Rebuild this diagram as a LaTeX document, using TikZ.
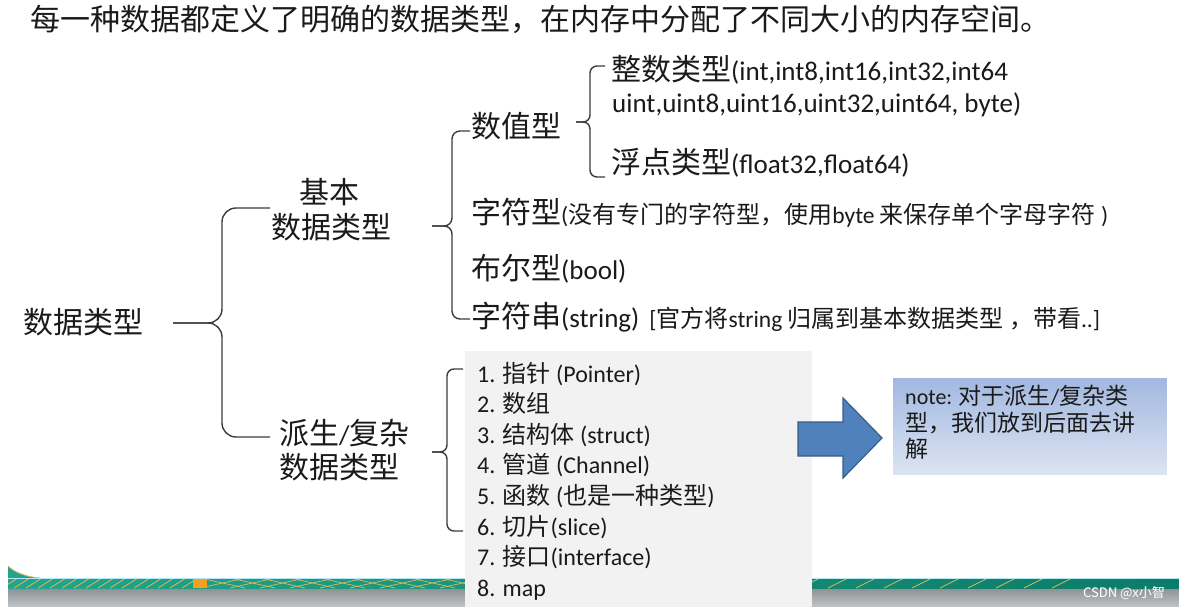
\documentclass[tikz,border=0pt]{standalone}
\usepackage{fontspec}
\setmainfont{Carlito}
\newfontfamily\cjk{Noto Sans CJK SC}
\newcommand\ZA[1]{{\cjk\fontsize{30}{36}\selectfont #1}}
\newcommand\LA[1]{{\fontsize{27}{32}\selectfont #1}}
\newcommand\ZB[1]{{\cjk\fontsize{24}{29}\selectfont #1}}
\newcommand\LD[1]{{\fontsize{24}{29}\selectfont #1}}
\newcommand\ZC[1]{{\cjk\fontsize{23}{28}\selectfont #1}}
\newcommand\LC[1]{{\fontsize{22}{27}\selectfont #1}}
\newcommand\LE[1]{{\fontsize{23.5}{28}\selectfont #1}}
\definecolor{txt}{HTML}{1A1A1A}
\definecolor{brc}{HTML}{3C3C3C}
\definecolor{boxgray}{HTML}{F2F2F2}
\definecolor{arrfill}{HTML}{4F81BD}
\definecolor{arrline}{HTML}{385D8A}
\definecolor{notetop}{HTML}{A3B9E0}
\definecolor{notebot}{HTML}{DDE5F3}
\definecolor{tealA}{HTML}{23A48C}
\definecolor{tealB}{HTML}{0B7C68}
\definecolor{stripe}{HTML}{D9B95C}
\definecolor{orng}{HTML}{F4A020}
\definecolor{gtop}{HTML}{8C9094}
\definecolor{gbot}{HTML}{C2C5C8}
\tikzset{
  lbl/.style={inner sep=0pt, anchor=base west, text=txt},
  brace/.style={draw=brc, line width=1.4pt, rounded corners=#1},
  brace/.default=10pt,
}
\begin{document}
\begin{tikzpicture}[x=1pt,y=1pt]
\useasboundingbox (0,0) rectangle (1179,-607);
\fill[white] (0,0) rectangle (1179,-607);

% bottom decorative band
\shade[top color=gtop, bottom color=gbot] (8,-588) rectangle (1179,-607);
\shade[left color=tealA, right color=tealB] (8,-578) rectangle (1179,-588);
\begin{scope}
  \clip (8,-578) rectangle (1179,-588);
  \foreach \x in {2,14,...,190} \draw[stripe, line width=0.8pt] (\x,-588) -- (\x+16,-578);
  \foreach \x in {200,230,...,470} {
    \draw[stripe, line width=0.7pt] (\x,-588) -- (\x+45,-578);
    \draw[stripe, line width=0.7pt] (\x,-578) -- (\x+45,-588);
  }
  \foreach \x in {800,828,...,1070} \draw[stripe, line width=0.8pt] (\x,-588) -- (\x+20,-578);
\end{scope}
\fill[orng] (193,-578) rectangle (207,-588);
\fill[tealA] (8,-566) .. controls (14,-572) and (26,-577) .. (40,-578) -- (8,-578) -- cycle;
\draw[stripe, line width=0.8pt] (8,-566) .. controls (14,-572) and (26,-577) .. (40,-578);
\draw[white!70!cyan, line width=0.6pt] (8,-578) -- (1179,-578);

% gray list box
\fill[boxgray] (465,-351) rectangle (812,-607);

% arrow
\fill[arrfill, draw=arrline, line width=1.2pt]
  (798,-422) -- (843,-422) -- (843,-398) -- (882,-438) -- (843,-478) -- (843,-456) -- (798,-456) -- cycle;

% note box (vertical gradient, darker at top)
\foreach \i in {0,...,19} {
  \pgfmathsetmacro\pc{100-5*\i}
  \fill[notetop!\pc!notebot] (893,-378-\i*4.85) rectangle (1167,-378-\i*4.85-5.1);
}
\node[lbl] (note1) at (905,-404) {\LC{note: }\ZC{对于派生}\LC{/}\ZC{复杂类}};
\node[lbl] (note2) at (905,-431) {\ZC{型，我们放到后面去讲}};
\node[lbl] (note3) at (905,-457) {\ZC{解}};

% title
\node[lbl] (title) at (30,-31) {\ZA{每一种数据都定义了明确的数据类型，在内存中分配了不同大小的内存空间。}};

% tree labels
\node[lbl] (root) at (23,-333) {\ZA{数据类型}};
\node[lbl] (basA) at (299,-204) {\ZA{基本}};
\node[lbl] (basB) at (271,-239) {\ZA{数据类型}};
\node[lbl] (derA) at (279,-444) {\ZA{派生}\LA{/}\ZA{复杂}};
\node[lbl] (derB) at (279,-478) {\ZA{数据类型}};
\node[lbl] (num) at (471,-138) {\ZA{数值型}};
\node[lbl] (int) at (611,-81) {\ZA{整数类型}\LA{(int,int8,int16,int32,int64}};
\node[lbl] (uint) at (612,-113) {\LA{uint,uint8,uint16,uint32,uint64, byte)}};
\node[lbl] (flt) at (611,-174) {\ZA{浮点类型}\LA{(float32,float64)}};
\node[lbl] (chr) at (471,-223) {\ZA{字符型}\LE{(}\ZB{没有专门的字符型，使用}\LE{byte }\ZB{来保存单个字母字符}\LE{ )}};
\node[lbl] (bool) at (471,-279) {\ZA{布尔型}\LA{(bool)}};
\node[lbl] (str) at (471,-327) {\ZA{字符串}\LA{(string)}\hspace{10pt}\LE{[}\ZB{官方将}\LE{string }\ZB{归属到基本数据类型 ，带看}\LE{..]}};

% derived list
\node[lbl] (d1) at (477,-382) {\LD{1. }\ZB{指针}\LD{ (Pointer)}};
\node[lbl] (d2) at (477,-412.6) {\LD{2. }\ZB{数组}};
\node[lbl] (d3) at (477,-443.2) {\LD{3. }\ZB{结构体}\LD{ (struct)}};
\node[lbl] (d4) at (477,-473.8) {\LD{4. }\ZB{管道}\LD{ (Channel)}};
\node[lbl] (d5) at (477,-504.4) {\LD{5. }\ZB{函数}\LD{ (}\ZB{也是一种类型}\LD{)}};
\node[lbl] (d6) at (477,-535) {\LD{6. }\ZB{切片}\LD{(slice)}};
\node[lbl] (d7) at (477,-565.6) {\LD{7. }\ZB{接口}\LD{(interface)}};
\node[lbl] (d8) at (477,-596.2) {\LD{8. map}};

% braces
\coordinate (tipA) at (173,-323);
\coordinate (tipB) at (432,-226);
\coordinate (tipC) at (576,-122);
\coordinate (tipD) at (432,-452);
\draw[brace=14pt] (270,-208) -- (222,-208) -- (222,-323) -- (tipA);
\draw[brace=14pt] (tipA) -- (222,-323) -- (222,-437) -- (270,-437);
\draw[brace=8pt] (470,-131) -- (452,-131) -- (452,-226) -- (tipB);
\draw[brace=8pt] (tipB) -- (452,-226) -- (452,-319) -- (470,-319);
\draw[brace=7pt] (605,-66) -- (590,-66) -- (590,-122) -- (tipC);
\draw[brace=7pt] (tipC) -- (590,-122) -- (590,-177) -- (605,-177);
\draw[brace=7pt] (463,-369) -- (447,-369) -- (447,-452) -- (tipD);
\draw[brace=7pt] (tipD) -- (447,-452) -- (447,-531) -- (463,-531);

% watermark
\node[lbl, text=gray!70] at (1083.7,-597.7) {{\cjk\fontsize{13}{15}\selectfont CSDN @x小智}};
\node[lbl, text=white] (wm) at (1083,-597) {{\cjk\fontsize{13}{15}\selectfont CSDN @x小智}};
\end{tikzpicture}
\end{document}
